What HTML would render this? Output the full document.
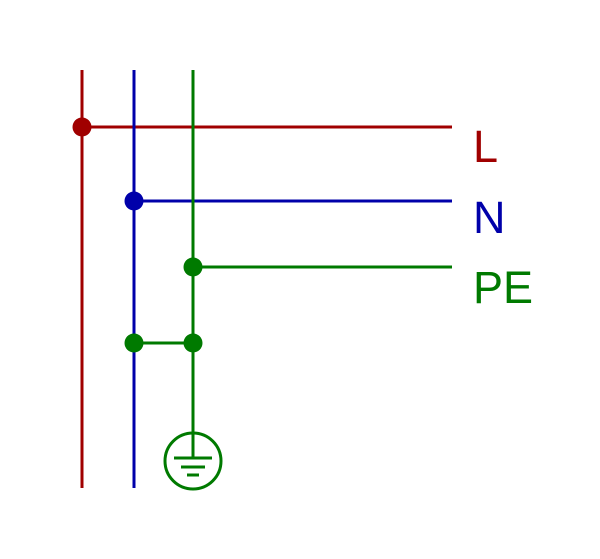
<!DOCTYPE html>
<html><head><style>body{margin:0;background:#fff}svg{display:block}</style></head><body>
<svg width="600" height="559" viewBox="0 0 600 559" xmlns="http://www.w3.org/2000/svg">
<g stroke-width="3" fill="none">
<line x1="82" y1="70" x2="82" y2="488" stroke="#a00000"/>
<line x1="82" y1="127" x2="452" y2="127" stroke="#a00000"/>
<line x1="134" y1="70" x2="134" y2="488" stroke="#0000aa"/>
<line x1="134" y1="201" x2="452" y2="201" stroke="#0000aa"/>
<line x1="193" y1="70" x2="193" y2="458" stroke="#007a00"/>
<line x1="193" y1="267" x2="452" y2="267" stroke="#007a00"/>
<line x1="134" y1="343" x2="193" y2="343" stroke="#007a00"/>
<circle cx="193" cy="461" r="28" stroke="#007a00"/>
<line x1="174" y1="458" x2="212" y2="458" stroke="#007a00"/>
<line x1="181" y1="467" x2="205" y2="467" stroke="#007a00"/>
<line x1="187" y1="475" x2="199" y2="475" stroke="#007a00"/>
</g>
<circle cx="82" cy="127" r="9.5" fill="#a00000"/>
<circle cx="134" cy="201" r="9.5" fill="#0000aa"/>
<circle cx="193" cy="267" r="9.5" fill="#007a00"/>
<circle cx="134" cy="343" r="9.5" fill="#007a00"/>
<circle cx="193" cy="343" r="9.5" fill="#007a00"/>
<g font-family="Liberation Sans, sans-serif" font-size="45">
<text x="473" y="162" fill="#a00000">L</text>
<text x="473" y="233" fill="#0000aa">N</text>
<text x="473" y="303" fill="#007a00">PE</text>
</g>
</svg>
</body></html>
